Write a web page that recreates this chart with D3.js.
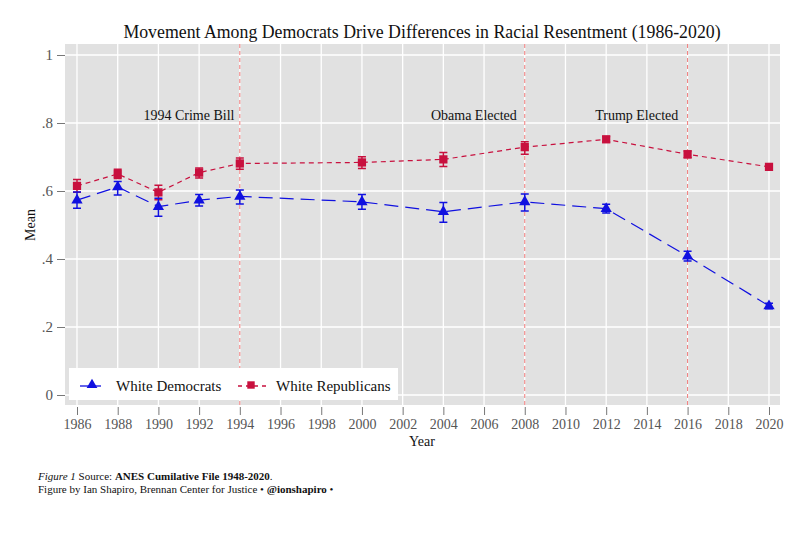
<!DOCTYPE html>
<html>
<head>
<meta charset="utf-8">
<script src="https://cdn.jsdelivr.net/npm/d3@7"></script>
<style>
  body { margin: 0; background: #fff; }
  text { font-family: "Liberation Serif", "DejaVu Serif", serif; }
</style>
</head>
<body>
<div id="chart"></div>
<script>
// data
const years = [1986, 1988, 1990, 1992, 1994, 2000, 2004, 2008, 2012, 2016, 2020]
const demMean = [0.573, 0.612, 0.554, 0.573, 0.584, 0.568, 0.539, 0.568, 0.548, 0.408, 0.262]
const demLow  = [0.549, 0.588, 0.526, 0.556, 0.562, 0.546, 0.508, 0.541, 0.535, 0.394, 0.254]
const demHigh = [0.597, 0.628, 0.579, 0.590, 0.603, 0.590, 0.566, 0.591, 0.561, 0.423, 0.270]
const repMean = [0.615, 0.650, 0.596, 0.654, 0.681, 0.684, 0.693, 0.729, 0.752, 0.708, 0.671]
const repLow  = [0.596, 0.637, 0.574, 0.638, 0.664, 0.666, 0.672, 0.708, 0.744, 0.698, 0.665]
const repHigh = [0.634, 0.664, 0.617, 0.668, 0.697, 0.701, 0.713, 0.745, 0.760, 0.718, 0.677]
const events = [1994, 2008, 2016]
const eventLabels = ["1994 Crime Bill", "Obama Elected", "Trump Elected"]
const xTicks = d3.range(1986, 2021, 2)
const yTicks = [0, 0.2, 0.4, 0.6, 0.8, 1]
const yTickLabels = ["0", ".2", ".4", ".6", ".8", "1"]

const width = 800
const height = 533
const panel = {left: 65, right: 780, top: 44, bottom: 405}
const blue = "#1010e0"
const red = "#c8103e"

const x = d3.scaleLinear().domain([1986, 2020]).range([77, 769])
const y = d3.scaleLinear().domain([0, 1]).range([395, 55])

const svg = d3.select("#chart").append("svg")
    .attr("width", width)
    .attr("height", height)

// title
svg.append("text")
    .attr("x", 422).attr("y", 38)
    .attr("text-anchor", "middle")
    .attr("font-size", 17.8)
    .attr("fill", "#111")
    .text("Movement Among Democrats Drive Differences in Racial Resentment (1986-2020)")

// panel + grid
svg.append("rect")
    .attr("x", panel.left).attr("y", panel.top)
    .attr("width", panel.right - panel.left).attr("height", panel.bottom - panel.top)
    .attr("fill", "#e1e1e1")

svg.append("g").selectAll("line").data(xTicks).join("line")
    .attr("x1", d => x(d)).attr("x2", d => x(d))
    .attr("y1", panel.top).attr("y2", panel.bottom)
    .attr("stroke", "#fff").attr("stroke-width", 1.3)

svg.append("g").selectAll("line").data(yTicks).join("line")
    .attr("x1", panel.left).attr("x2", panel.right)
    .attr("y1", d => y(d)).attr("y2", d => y(d))
    .attr("stroke", "#fff").attr("stroke-width", 1.3)

// axes
const xAxis = d3.axisBottom(x).tickValues(xTicks).tickFormat(d3.format("d"))
    .tickSize(8).tickPadding(4)
const gx = svg.append("g").attr("transform", `translate(0,${panel.bottom + 2})`).call(xAxis)
gx.select(".domain").remove()
gx.selectAll(".tick line").attr("stroke", "#777")
gx.selectAll(".tick text").attr("font-size", 14).attr("fill", "#555")
    .attr("font-family", "Liberation Serif, serif")

const yAxis = d3.axisLeft(y).tickValues(yTicks).tickFormat((d, i) => yTickLabels[i])
    .tickSize(8).tickPadding(4)
const gy = svg.append("g").attr("transform", `translate(${panel.left},0)`).call(yAxis)
gy.select(".domain").remove()
gy.selectAll(".tick line").attr("stroke", "#777")
gy.selectAll(".tick text").attr("font-size", 15).attr("fill", "#555")
    .attr("font-family", "Liberation Serif, serif")

svg.append("text")
    .attr("x", 422).attr("y", 446)
    .attr("text-anchor", "middle").attr("font-size", 14).attr("fill", "#111")
    .text("Year")

svg.append("text")
    .attr("transform", "translate(35,225) rotate(-90)")
    .attr("text-anchor", "middle").attr("font-size", 14).attr("fill", "#111")
    .text("Mean")

// event lines
svg.append("g").selectAll("line").data(events).join("line")
    .attr("x1", d => x(d)).attr("x2", d => x(d))
    .attr("y1", panel.top).attr("y2", panel.bottom)
    .attr("stroke", "#f07a7a").attr("stroke-width", 1)
    .attr("stroke-dasharray", "4,3")

svg.append("g").selectAll("text").data(events).join("text")
    .attr("x", d => x(d - 2.5)).attr("y", 120)
    .attr("text-anchor", "middle").attr("font-size", 14).attr("fill", "#111")
    .text((d, i) => eventLabels[i])

// series
const series = [
  {mean: demMean, low: demLow, high: demHigh, color: blue, dash: "14,7", marker: "tri"},
  {mean: repMean, low: repLow, high: repHigh, color: red, dash: "5,4", marker: "sq"}
]

const line = d3.line().x(d => x(d[0])).y(d => y(d[1]))

// draw republicans first so democrats sit on top where they cross
series.slice().reverse().forEach(s => {
  const pts = years.map((yr, i) => [yr, s.mean[i], s.low[i], s.high[i]])
  const g = svg.append("g")
  g.append("path")
      .attr("d", line(pts))
      .attr("fill", "none").attr("stroke", s.color).attr("stroke-width", 1.2)
      .attr("stroke-dasharray", s.dash)
  // error bars
  g.selectAll(".err").data(pts).join("path")
      .attr("d", d => `M${x(d[0]) - 4},${y(d[2])}H${x(d[0]) + 4}M${x(d[0])},${y(d[2])}V${y(d[3])}M${x(d[0]) - 4},${y(d[3])}H${x(d[0]) + 4}`)
      .attr("fill", "none").attr("stroke", s.color).attr("stroke-width", 1.5)
  const sym = d3.symbol().type(s.marker === "tri" ? d3.symbolTriangle : d3.symbolSquare)
      .size(s.marker === "tri" ? 55 : 68)
  g.selectAll(".mk").data(pts).join("path")
      .attr("transform", d => `translate(${x(d[0])},${y(d[1])})`)
      .attr("d", sym)
      .attr("fill", s.color)
})

// legend
const lg = svg.append("g")
lg.append("rect")
    .attr("x", 69).attr("y", 368).attr("width", 329).attr("height", 32)
    .attr("fill", "#fff")
lg.append("line").attr("x1", 80).attr("x2", 101).attr("y1", 386).attr("y2", 386)
    .attr("stroke", blue).attr("stroke-width", 1.3)
lg.append("path").attr("transform", "translate(92,385)")
    .attr("d", d3.symbol().type(d3.symbolTriangle).size(50)).attr("fill", blue)
lg.append("text").attr("x", 116).attr("y", 391).attr("font-size", 15).attr("fill", "#111")
    .text("White Democrats")
lg.append("line").attr("x1", 238).attr("x2", 266).attr("y1", 386).attr("y2", 386)
    .attr("stroke", red).attr("stroke-width", 1.3).attr("stroke-dasharray", "4,4")
lg.append("path").attr("transform", "translate(251,385)")
    .attr("d", d3.symbol().type(d3.symbolSquare).size(55)).attr("fill", red)
lg.append("text").attr("x", 276).attr("y", 391).attr("font-size", 15).attr("fill", "#111")
    .text("White Republicans")

// footer
const f1 = svg.append("text").attr("x", 38).attr("y", 480).attr("font-size", 11).attr("fill", "#111")
f1.append("tspan").attr("font-style", "italic").text("Figure 1")
f1.append("tspan").text(" Source: ")
f1.append("tspan").attr("font-weight", "bold").text("ANES Cumilative File 1948-2020")
f1.append("tspan").text(".")
const f2 = svg.append("text").attr("x", 38).attr("y", 493).attr("font-size", 11).attr("fill", "#111")
f2.append("tspan").text("Figure by Ian Shapiro, Brennan Center for Justice  \u2022 ")
f2.append("tspan").attr("font-weight", "bold").text("@ionshapiro")
f2.append("tspan").text(" \u2022")
</script>
</body>
</html>
